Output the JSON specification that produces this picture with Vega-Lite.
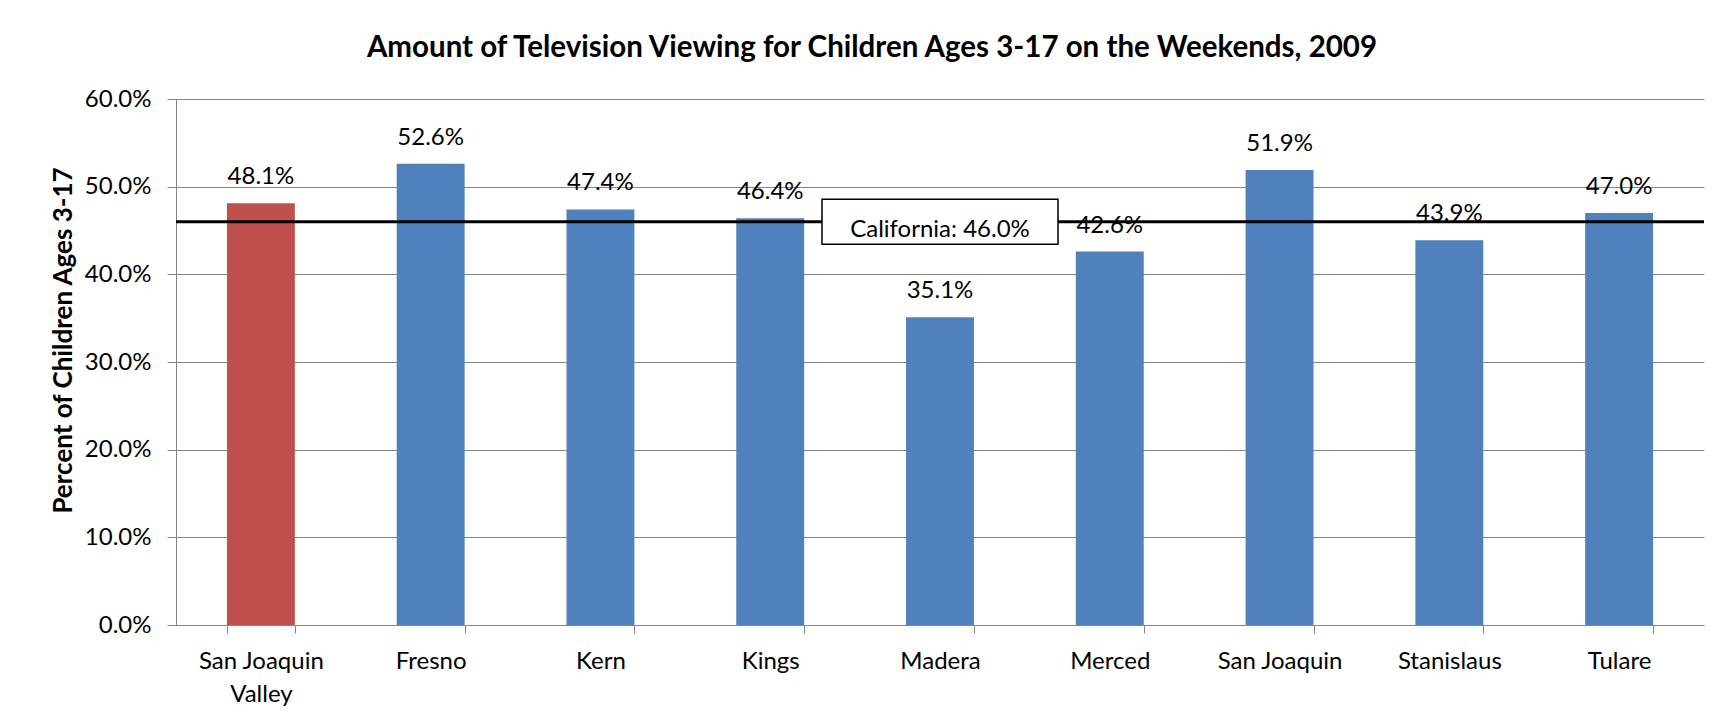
{
  "$schema": "https://vega.github.io/schema/vega-lite/v6.json",
  "width": 1528,
  "height": 526,
  "autosize": "none",
  "padding": {"left": 176, "top": 99, "right": 22, "bottom": 96},
  "background": "white",
  "config": {"font": "Lato", "view": {"stroke": null}},
  "title": {"text": "Amount of Television Viewing for Children Ages 3-17 on the Weekends, 2009", "fontSize": 29.5, "fontWeight": "bold", "color": "black", "anchor": "middle", "frame": "group", "dx": -68, "dy": 43, "offset": 44, "baseline": "alphabetic"},
  "datasets": {
    "bars": [
      {"area": "San Joaquin Valley", "pct": 0.481, "group": "Valley"},
      {"area": "Fresno", "pct": 0.526, "group": "County"},
      {"area": "Kern", "pct": 0.474, "group": "County"},
      {"area": "Kings", "pct": 0.464, "group": "County"},
      {"area": "Madera", "pct": 0.351, "group": "County"},
      {"area": "Merced", "pct": 0.426, "group": "County"},
      {"area": "San Joaquin", "pct": 0.519, "group": "County"},
      {"area": "Stanislaus", "pct": 0.439, "group": "County"},
      {"area": "Tulare", "pct": 0.470, "group": "County"}
    ],
    "state": [{"label": "California:  46.0%", "value": 0.46, "anchor": "Madera"}]
  },
  "encoding": {
    "x": {"field": "area", "type": "nominal",
      "scale": {"domain": ["San Joaquin Valley", "Fresno", "Kern", "Kings", "Madera", "Merced", "San Joaquin", "Stanislaus", "Tulare"], "paddingInner": 0.6, "paddingOuter": 0.3},
      "axis": {"title": null, "tickBand": "extent", "tickSize": 8, "tickColor": "#868686", "domainColor": "#868686", "labelFontSize": 24, "labelColor": "black", "labelPadding": 16, "labelAngle": 0, "labelExpr": "datum.value == 'San Joaquin Valley' ? ['San Joaquin', 'Valley'] : datum.value", "labelLineHeight": 33, "grid": false}},
    "y": {"field": "pct", "type": "quantitative",
      "scale": {"domain": [0, 0.6]},
      "axis": {"title": "Percent of Children Ages 3-17", "format": ".1%", "values": [0, 0.1, 0.2, 0.3, 0.4, 0.5, 0.6], "grid": true, "gridColor": "#868686", "tickSize": 9, "tickColor": "#868686", "domainColor": "#868686", "labelFontSize": 24, "labelPadding": 16, "labelColor": "black", "titleFontSize": 26, "titleFontWeight": "bold", "titleColor": "black", "titleX": -113, "titleY": 241, "titleAngle": -90, "titleAlign": "center", "titleBaseline": "middle"}}
  },
  "layer": [
    {"data": {"name": "bars"}, "mark": {"type": "bar"},
      "encoding": {"color": {"field": "group", "type": "nominal", "scale": {"domain": ["Valley", "County"], "range": ["#C0504D", "#4F81BD"]}, "legend": null}}},
    {"data": {"name": "bars"}, "mark": {"type": "text", "dy": -19, "baseline": "alphabetic", "fontSize": 24, "color": "black"},
      "encoding": {"text": {"field": "pct", "type": "quantitative", "format": ".1%"}}},
    {"data": {"name": "state"}, "mark": {"type": "rule", "color": "black", "strokeWidth": 3},
      "encoding": {"x": null, "y": {"field": "value", "type": "quantitative"}}},
    {"data": {"name": "state"}, "mark": {"type": "point", "shape": "M-1,-0.19L1,-0.19L1,0.19L-1,0.19Z", "size": 55696, "filled": true, "fill": "white", "stroke": "black", "strokeWidth": 1.5, "opacity": 1},
      "encoding": {"x": {"field": "anchor", "type": "nominal"}, "y": {"field": "value", "type": "quantitative"}}},
    {"data": {"name": "state"}, "mark": {"type": "text", "baseline": "alphabetic", "dy": 15, "fontSize": 24, "color": "black"},
      "encoding": {"x": {"field": "anchor", "type": "nominal"}, "y": {"field": "value", "type": "quantitative"}, "text": {"field": "label"}}}
  ]
}
